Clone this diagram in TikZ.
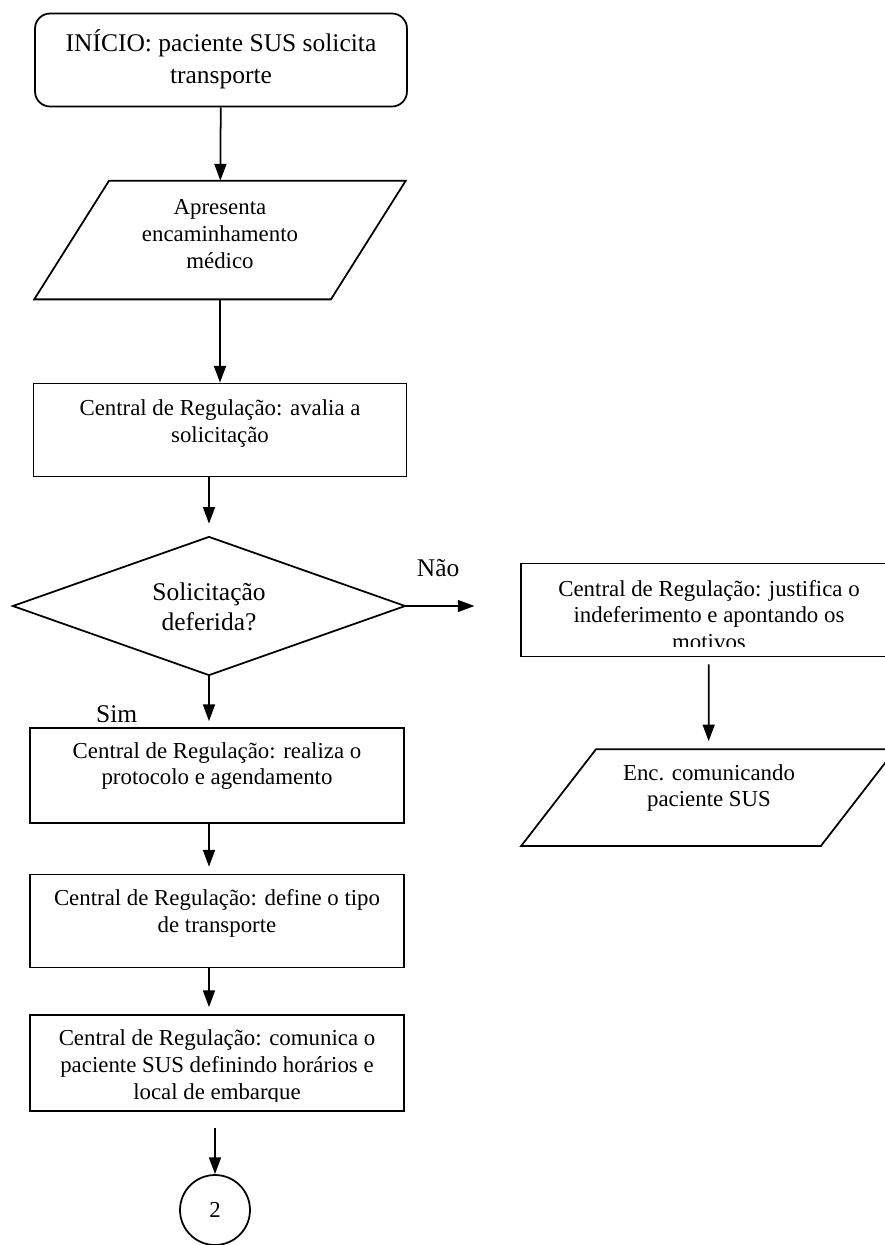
\documentclass[tikz,border=0pt]{standalone}
\usepackage{fontspec}
\setmainfont{Liberation Serif}
\usetikzlibrary{shapes.geometric,arrows.meta}

\begin{document}
\begin{tikzpicture}[x=0.02cm, y=-0.02cm, ->, >={Triangle[length=9.5pt, width=6.8pt]}, line width=1pt,
                    caixa/.style={rectangle, draw, minimum width=7.46cm, minimum height=1.86cm},
                    corpo/.style={rectangle, minimum width=5.9cm, minimum height=2.34cm},
                    texto/.style={align=center, font=\fontsize{13}{15.3}\selectfont, inner sep=0pt},
                    ]
                    \useasboundingbox (0,0) rectangle (885,1245);
                    \clip (0,0) rectangle (885,1245);

                    \node [rectangle, rounded corners=0.3cm, draw, minimum width=7.44cm, minimum height=1.86cm](11) at (221,60){};
                    \node [texto, font=\fontsize{14.5}{18}\selectfont](11t) at (221,59){INÍCIO: paciente SUS solicita\\transporte};

                    \node [corpo](12) at (220,240){};
                    \draw [-] ([xshift=21.3pt]12.north west) -- ([xshift=21.3pt]12.north east)
                              -- ([xshift=-21.3pt]12.south east) -- ([xshift=-21.3pt]12.south west) -- cycle;
                    \node [texto](12t) at (220,234){Apresenta\\encaminhamento\\médico};

                    \node [caixa](13) at (220,430){};
                    \node [texto](13t) at (220,423.5){Central de Regulação: avalia a\\solicitação};

                    \node [diamond, draw, minimum width=7.86cm, minimum height=2.78cm, inner sep=0pt](14) at (209,606){};
                    \node [texto, font=\fontsize{14.5}{17}\selectfont](14t) at (209,607){Solicitação\\deferida?};

                    \node [caixa, minimum width=7.52cm](15) at (709,610){};
                    \begin{scope}
                        \clip (15.north west) rectangle ([yshift=6.2pt]15.south east);
                        \node [texto](15t) at (709,615){Central de Regulação: justifica o\\indeferimento e apontando os\\motivos};
                    \end{scope}

                    \node [corpo, minimum width=5.96cm, minimum height=1.9cm](16) at (708.5,797.5){};
                    \draw [-] ([xshift=21.3pt]16.north west) -- ([xshift=21.3pt]16.north east)
                              -- ([xshift=-21.3pt]16.south east) -- ([xshift=-21.3pt]16.south west) -- cycle;
                    \node [texto](16t) at (709,788){Enc. comunicando\\paciente SUS};

                    \node [caixa, minimum width=7.48cm, minimum height=1.9cm](17) at (217,775.5){};
                    \node [texto](17t) at (217,766){Central de Regulação: realiza o\\protocolo e agendamento};

                    \node [caixa, minimum width=7.48cm](18) at (217,921){};
                    \node [texto](18t) at (217,913){Central de Regulação: define o tipo\\de transporte};

                    \node [caixa, minimum width=7.48cm, minimum height=1.92cm](19) at (217,1063){};
                    \begin{scope}
                        \clip (19.north west) rectangle ([yshift=6pt]19.south east);
                        \node [texto](19t) at (217,1067){Central de Regulação: comunica o\\paciente SUS definindo horários e\\local de embarque};
                    \end{scope}

                    \node [circle, draw, minimum size=1.4cm, font=\fontsize{13}{15}\selectfont](20) at (215,1210){2};

                    \path[every node/.style={font=\fontsize{14.5}{17}\selectfont}]

                        (11) edge (12)
                        (12) edge (13)
                        (13.south -| 14) edge [shorten >=6.8pt] (14)
                        (14.east) edge [shorten >=26pt] node[pos=0.28, above=13pt]{Não} (14.east -| 15.west)
                        (14.south) edge [shorten >=3.4pt] node[pos=0.75, left=37pt]{Sim} (14.south |- 17.north)
                        (15) edge [shorten <=4pt, shorten >=4.5pt] (16)
                        (17.south -| 14) edge [shorten >=4pt] (18.north -| 14)
                        (18.south -| 14) edge [shorten >=4pt] (19.north -| 14)
                        (19.south -| 20) edge [shorten <=9pt] (20)
                    ;

                \end{tikzpicture}
\end{document}
